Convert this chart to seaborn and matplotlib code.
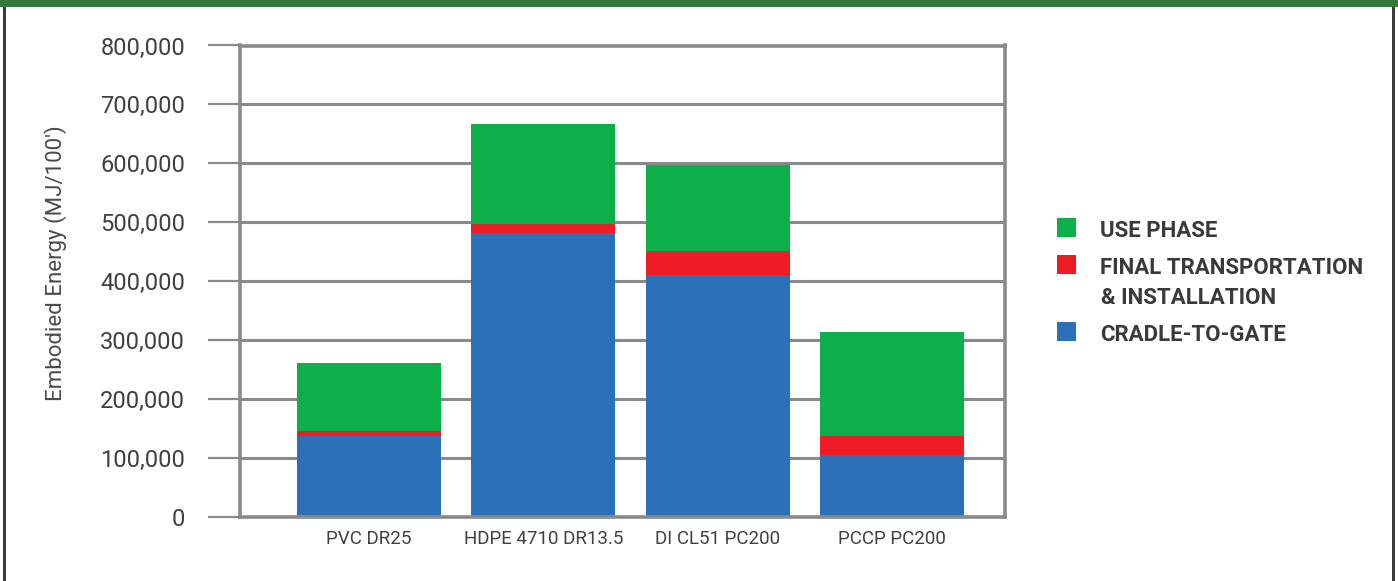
import numpy as np
import pandas as pd
import matplotlib
matplotlib.use("Agg")
import matplotlib.pyplot as plt
from matplotlib.patches import Rectangle
from matplotlib.ticker import FuncFormatter
import seaborn as sns

# Pipe materials and embodied energy per lifecycle stage (MJ per 100 ft)
pipes = ["PVC DR25", "HDPE 4710 DR13.5", "DI CL51 PC200", "PCCP PC200"]
cradle_to_gate = [137000, 482000, 411000, 106000]
transport_install = [9000, 15000, 41000, 31000]
use_phase = [116000, 170000, 145000, 177000]

stage_labels = ["USE PHASE", "FINAL TRANSPORTATION\n& INSTALLATION", "CRADLE-TO-GATE"]
y_ticks = [0, 100000, 200000, 300000, 400000, 500000, 600000, 700000, 800000]

BLUE = "#2c70b8"
RED = "#ee1c25"
GREEN = "#0daf4b"
GRID = "#8a8a8a"
TEXT = "#404040"

sns.set_theme(style="white")
plt.rcParams["font.family"] = ["Roboto", "DejaVu Sans"]

W, H = 1398, 581
fig = plt.figure(figsize=(W / 100, H / 100), dpi=100)
ax = fig.add_axes([240 / W, 64 / H, 765 / W, 471.5 / H])

df = pd.DataFrame({
    "pipe": pipes,
    "cradle": cradle_to_gate,
    "transport": transport_install,
    "use": use_phase,
})
df["lvl1"] = df["cradle"]
df["lvl2"] = df["cradle"] + df["transport"]
df["lvl3"] = df["lvl2"] + df["use"]

# stacked bars drawn back to front as cumulative totals
for col, color in [("lvl3", GREEN), ("lvl2", RED), ("lvl1", BLUE)]:
    sns.barplot(data=df, x="pipe", y=col, color=color, width=0.826,
                saturation=1, linewidth=0, ax=ax, zorder=2)

ax.set_xlim(-0.74, 3.648)
ax.set_ylim(0, 800000)
ax.set_yticks(y_ticks)
ax.yaxis.set_major_formatter(FuncFormatter(lambda v, _: f"{int(v):,}"))
ax.set_axisbelow(True)
ax.grid(axis="y", color=GRID, linewidth=2.2, zorder=0)
ax.grid(axis="x", visible=False)

for side in ["top", "bottom", "left", "right"]:
    ax.spines[side].set_visible(True)
    ax.spines[side].set_color(GRID)
    ax.spines[side].set_linewidth(2.6)
    ax.spines[side].set_zorder(3)

ax.tick_params(axis="y", which="major", left=True, length=23, width=1.6,
               color=GRID, pad=16.5, labelsize=17, labelcolor=TEXT)
ax.tick_params(axis="x", which="major", bottom=False, length=0, pad=9,
               labelsize=13.5, labelcolor=TEXT)

ax.set_xlabel("")
ax.set_ylabel("Embodied Energy (MJ/100')", fontsize=16, color="#4a4a4a")
ax.yaxis.set_label_coords(-0.226, 0.539)

# legend drawn in figure pixel space
def fx(px):
    return px / W

def fy(py):
    return 1 - py / H

legend_colors = [GREEN, RED, BLUE]
square_tops = [218, 255, 322]
for label, color, top in zip(stage_labels, legend_colors, square_tops):
    fig.add_artist(Rectangle((fx(1057), fy(top + 19)), 19 / W, 19 / H,
                             transform=fig.transFigure, facecolor=color,
                             edgecolor="none"))
    fig.text(fx(1100), fy(top + 19), label.split("\n")[0], fontsize=16,
             fontweight="bold", color="#3a3a3a", ha="left", va="baseline")
    if "\n" in label:
        fig.text(fx(1101), fy(top + 19 + 30), label.split("\n")[1],
                 fontsize=16, fontweight="bold", color="#3a3a3a",
                 ha="left", va="baseline")

# panel frame: green header band with dark side rules
fig.add_artist(Rectangle((0, fy(7)), 1, 7 / H, transform=fig.transFigure,
                         facecolor="#317a3b", edgecolor="none"))
fig.add_artist(Rectangle((fx(3), 0), 3 / W, fy(7), transform=fig.transFigure,
                         facecolor="#3c3c3c", edgecolor="none"))
fig.add_artist(Rectangle((fx(1392), 0), 3 / W, fy(7), transform=fig.transFigure,
                         facecolor="#3c3c3c", edgecolor="none"))

fig.savefig("out.png", dpi=100, facecolor="white")
